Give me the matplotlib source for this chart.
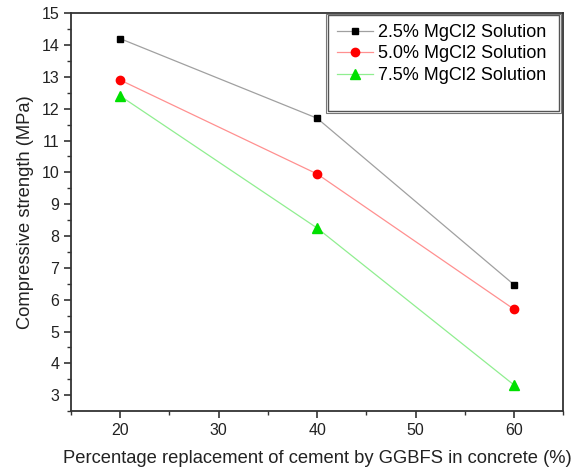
import matplotlib
matplotlib.use("Agg")
import matplotlib.pyplot as plt
from matplotlib.patches import Rectangle
from matplotlib.ticker import MultipleLocator

plt.rcParams['font.family'] = ['Liberation Sans', 'DejaVu Sans']

# GGBFS replacement (%)
ggbfs = [20, 40, 60]
mg25 = [14.2, 11.7, 6.47]
mg50 = [12.9, 9.95, 5.7]
mg75 = [12.4, 8.25, 3.32]
labels = ["2.5% MgCl2 Solution", "5.0% MgCl2 Solution", "7.5% MgCl2 Solution"]

fig = plt.figure(figsize=(5.73, 4.72), dpi=100)
ax = fig.add_axes([0.124, 0.129, 0.859, 0.843])

ax.plot(ggbfs, mg25, color='#a0a0a0', lw=0.9, marker='s', ms=5,
        mfc='black', mec='black', label=labels[0])
ax.plot(ggbfs, mg50, color='#ff9090', lw=0.9, marker='o', ms=6,
        mfc='red', mec='red', label=labels[1])
ax.plot(ggbfs, mg75, color='#90ee90', lw=0.9, marker='^', ms=7,
        mfc='#00e000', mec='#00e000', label=labels[2])

ax.set_xlim(15, 65)
ax.set_ylim(2.5, 15)
ax.xaxis.set_major_locator(MultipleLocator(10))
ax.xaxis.set_minor_locator(MultipleLocator(5))
ax.yaxis.set_major_locator(MultipleLocator(1))
ax.yaxis.set_minor_locator(MultipleLocator(0.5))
ax.tick_params(which='both', direction='out', top=False, right=False,
               labelsize=11.5, color='#333333', labelcolor='#222222')
ax.tick_params(which='major', length=5, width=1.2)
ax.tick_params(which='minor', length=3, width=1)
for s in ax.spines.values():
    s.set_linewidth(1.3)
    s.set_color('#333333')

ax.set_xlabel("Percentage replacement of cement by GGBFS in concrete (%)",
              fontsize=13.2, labelpad=9, color='#222222')
ax.set_ylabel("Compressive strength (MPa)", fontsize=13.2, labelpad=5,
              color='#222222')

leg = ax.legend(loc='upper left', bbox_to_anchor=(0.514, 1.005), frameon=False,
                fontsize=13, handlelength=2.0, handletextpad=0.3,
                labelspacing=0.25, borderaxespad=0.3)

# double-line legend border
ax.add_patch(Rectangle((0.523, 0.755), 0.468, 0.24, transform=ax.transAxes,
                       fill=False, ec='#555555', lw=1.0, zorder=5))
ax.add_patch(Rectangle((0.518, 0.748), 0.478, 0.25, transform=ax.transAxes,
                       fill=False, ec='#777777', lw=0.8, zorder=5))

fig.savefig("out.png", dpi=100)
